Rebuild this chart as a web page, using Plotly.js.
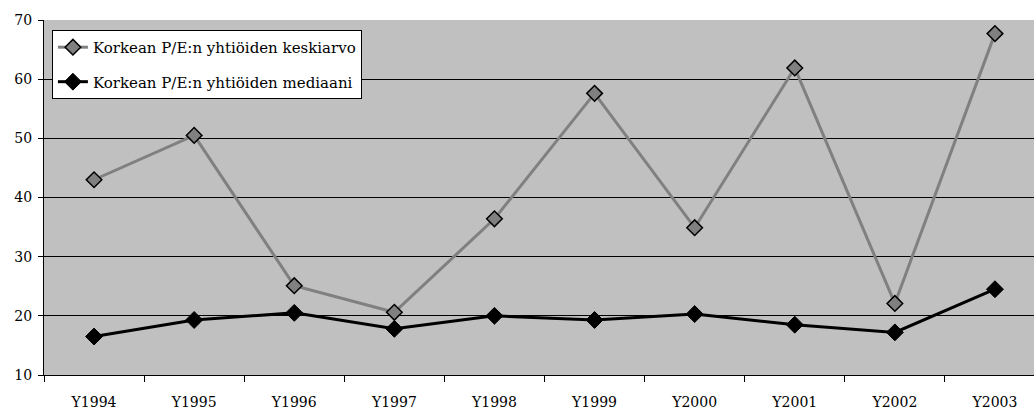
<!DOCTYPE html>
<html>
<head>
<meta charset="utf-8">
<script src="https://cdn.plot.ly/plotly-3.0.1.min.js"></script>
<style>html,body{margin:0;padding:0;background:#fff;}#chart{width:1034px;height:415px;}</style>
</head>
<body>
<div id="chart"></div>
<script>
const categories = ["Y1994","Y1995","Y1996","Y1997","Y1998","Y1999","Y2000","Y2001","Y2002","Y2003"];
const meanValues = [43.0, 50.5, 25.1, 20.6, 36.4, 57.6, 34.9, 61.9, 22.1, 67.7];
const medianValues = [16.5, 19.3, 20.5, 17.8, 20.0, 19.3, 20.3, 18.5, 17.2, 24.5];
const meanName = "Korkean P/E:n yhtiöiden keskiarvo";
const medianName = "Korkean P/E:n yhtiöiden mediaani";
const yTicks = [10, 20, 30, 40, 50, 60, 70];

const font = "DejaVu Serif";
const data = [
  {
    x: categories, y: meanValues, name: meanName, type: "scatter", mode: "lines+markers",
    legendgroup: "g1",
    line: {color: "#808080", width: 3},
    marker: {symbol: "diamond", size: 12, color: "#808080", line: {color: "#000", width: 1.5}}
  },
  {
    x: categories, y: medianValues, name: medianName, type: "scatter", mode: "lines+markers",
    legendgroup: "g2",
    line: {color: "#000", width: 3},
    marker: {symbol: "diamond", size: 13, color: "#000", line: {color: "#000", width: 1}}
  }
];
const layout = {
  width: 1034, height: 415,
  margin: {l: 44, r: 0, t: 20, b: 40},
  paper_bgcolor: "#fff", plot_bgcolor: "#c0c0c0",
  font: {family: font, size: 14, color: "#000"},
  showlegend: true,
  legend: {
    x: 0.008, y: 0.972, xanchor: "left", yanchor: "top",
    bgcolor: "#fff", bordercolor: "#000", borderwidth: 1,
    font: {family: font, size: 15, color: "#000"},
    tracegroupgap: 12
  },
  xaxis: {
    type: "category", range: [-0.5, 9.39], tickson: "boundaries",
    showgrid: false, ticks: "outside", ticklen: 6, tickcolor: "#000",
    showline: true, linecolor: "#000", linewidth: 1,
    ticklabelstandoff: 14, zeroline: false,
    tickfont: {family: font, size: 14, color: "#000"}
  },
  yaxis: {
    range: [10, 70], tickvals: yTicks, ticks: "outside", ticklen: 5, tickcolor: "#000",
    showgrid: true, gridcolor: "#000", gridwidth: 1,
    showline: true, linecolor: "#000", linewidth: 1, zeroline: false,
    tickfont: {family: font, size: 14, color: "#000"}, ticklabelstandoff: 3
  }
};
Plotly.newPlot("chart", data, layout, {displayModeBar: false, staticPlot: true});
</script>
</body>
</html>
